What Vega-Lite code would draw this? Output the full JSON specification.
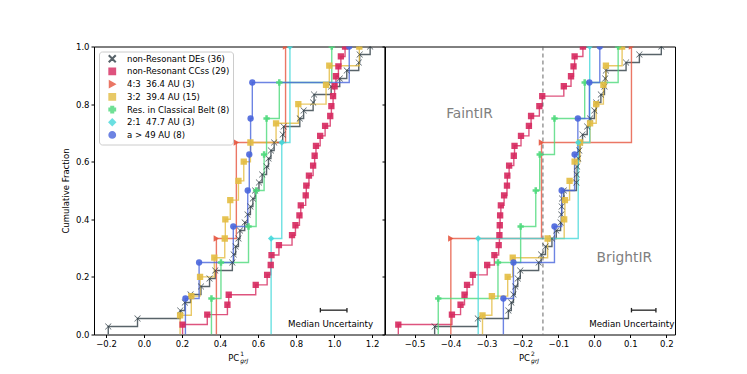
{
"$schema":"https://vega.github.io/schema/vega-lite/v6.json",
"background":"white",
"padding":{"left":60,"top":41.5,"right":5,"bottom":5},
"bounds":"flush",
"spacing":0,
"config":{"font":"DejaVu Sans","view":{"stroke":"black","strokeWidth":1},"axis":{"labelFont":"DejaVu Sans","titleFont":"DejaVu Sans","labelColor":"black","tickColor":"black","titleColor":"black","grid":false,"domain":false,"tickSize":3,"labelFontSize":8.5,"labelPadding":2,"labelFlush":false},"text":{"font":"DejaVu Sans"},"legend":{"rowPadding":-0.3,"symbolSize":40,"labelFontSize":8.5}},
"resolve":{"scale":{"x":"independent","color":"shared","shape":"shared"},"legend":{"color":"independent","shape":"independent"}},
"datasets":{
"L":[
{"s":"DE","x":-0.188,"f":0},{"s":"DE","x":-0.188,"f":0.0278},{"s":"DE","x":-0.034,"f":0.0556},{"s":"DE","x":0.191,"f":0.0833},{"s":"DE","x":0.215,"f":0.1111},{"s":"DE","x":0.245,"f":0.1389},{"s":"DE","x":0.30,"f":0.1667},{"s":"DE","x":0.345,"f":0.1944},{"s":"DE","x":0.375,"f":0.2222},{"s":"DE","x":0.465,"f":0.25},{"s":"DE","x":0.472,"f":0.2778},{"s":"DE","x":0.482,"f":0.3056},{"s":"DE","x":0.497,"f":0.3333},{"s":"DE","x":0.505,"f":0.3611},{"s":"DE","x":0.53,"f":0.3889},{"s":"DE","x":0.545,"f":0.4167},{"s":"DE","x":0.56,"f":0.4444},{"s":"DE","x":0.573,"f":0.4722},{"s":"DE","x":0.585,"f":0.5},{"s":"DE","x":0.605,"f":0.5278},{"s":"DE","x":0.622,"f":0.5556},{"s":"DE","x":0.645,"f":0.5833},{"s":"DE","x":0.655,"f":0.6111},{"s":"DE","x":0.668,"f":0.6389},{"s":"DE","x":0.685,"f":0.6667},{"s":"DE","x":0.73,"f":0.6944},{"s":"DE","x":0.735,"f":0.7222},{"s":"DE","x":0.82,"f":0.75},{"s":"DE","x":0.84,"f":0.7778},{"s":"DE","x":0.89,"f":0.8056},{"s":"DE","x":0.895,"f":0.8333},{"s":"DE","x":0.985,"f":0.8611},{"s":"DE","x":1.03,"f":0.8889},{"s":"DE","x":1.067,"f":0.9167},{"s":"DE","x":1.13,"f":0.9444},{"s":"DE","x":1.135,"f":0.9722},{"s":"DE","x":1.19,"f":1},
{"s":"CC","x":0.203,"f":0},{"s":"CC","x":0.203,"f":0.0345},{"s":"CC","x":0.333,"f":0.069},{"s":"CC","x":0.439,"f":0.1034},{"s":"CC","x":0.446,"f":0.1379},{"s":"CC","x":0.588,"f":0.1724},{"s":"CC","x":0.648,"f":0.2069},{"s":"CC","x":0.667,"f":0.2414},{"s":"CC","x":0.671,"f":0.2759},{"s":"CC","x":0.71,"f":0.3103},{"s":"CC","x":0.779,"f":0.3448},{"s":"CC","x":0.797,"f":0.3793},{"s":"CC","x":0.818,"f":0.4138},{"s":"CC","x":0.825,"f":0.4483},{"s":"CC","x":0.851,"f":0.4828},{"s":"CC","x":0.854,"f":0.5172},{"s":"CC","x":0.868,"f":0.5517},{"s":"CC","x":0.89,"f":0.5862},{"s":"CC","x":0.898,"f":0.6207},{"s":"CC","x":0.905,"f":0.6552},{"s":"CC","x":0.927,"f":0.6897},{"s":"CC","x":0.953,"f":0.7241},{"s":"CC","x":0.98,"f":0.7586},{"s":"CC","x":0.986,"f":0.7931},{"s":"CC","x":0.995,"f":0.8276},{"s":"CC","x":1.003,"f":0.8621},{"s":"CC","x":1.01,"f":0.8966},{"s":"CC","x":1.023,"f":0.931},{"s":"CC","x":1.036,"f":0.9655},{"s":"CC","x":1.058,"f":1},
{"s":"43","x":0.381,"f":0},{"s":"43","x":0.381,"f":0.3333},{"s":"43","x":0.486,"f":0.6667},{"s":"43","x":0.745,"f":1},
{"s":"32","x":0.19,"f":0},{"s":"32","x":0.19,"f":0.0667},{"s":"32","x":0.249,"f":0.1333},{"s":"32","x":0.295,"f":0.2},{"s":"32","x":0.37,"f":0.2667},{"s":"32","x":0.425,"f":0.3333},{"s":"32","x":0.428,"f":0.4},{"s":"32","x":0.454,"f":0.4667},{"s":"32","x":0.497,"f":0.5333},{"s":"32","x":0.525,"f":0.6},{"s":"32","x":0.56,"f":0.6667},{"s":"32","x":0.695,"f":0.7333},{"s":"32","x":0.812,"f":0.8},{"s":"32","x":0.958,"f":0.8667},{"s":"32","x":0.975,"f":0.9333},{"s":"32","x":1.133,"f":1},
{"s":"RC","x":0.355,"f":0},{"s":"RC","x":0.355,"f":0.125},{"s":"RC","x":0.405,"f":0.25},{"s":"RC","x":0.55,"f":0.375},{"s":"RC","x":0.59,"f":0.5},{"s":"RC","x":0.632,"f":0.625},{"s":"RC","x":0.645,"f":0.75},{"s":"RC","x":0.712,"f":0.875},{"s":"RC","x":0.988,"f":1},
{"s":"21","x":0.669,"f":0},{"s":"21","x":0.669,"f":0.3333},{"s":"21","x":0.725,"f":0.6667},{"s":"21","x":0.768,"f":1},
{"s":"49","x":0.218,"f":0},{"s":"49","x":0.218,"f":0.125},{"s":"49","x":0.29,"f":0.25},{"s":"49","x":0.47,"f":0.375},{"s":"49","x":0.546,"f":0.5},{"s":"49","x":0.554,"f":0.625},{"s":"49","x":0.561,"f":0.75},{"s":"49","x":0.57,"f":0.875},{"s":"49","x":1.08,"f":1}
],
"R":[
{"s":"DE","x":-0.444,"f":0},{"s":"DE","x":-0.444,"f":0.0278},{"s":"DE","x":-0.324,"f":0.0556},{"s":"DE","x":-0.239,"f":0.0833},{"s":"DE","x":-0.231,"f":0.1111},{"s":"DE","x":-0.225,"f":0.1389},{"s":"DE","x":-0.22,"f":0.1667},{"s":"DE","x":-0.213,"f":0.1944},{"s":"DE","x":-0.206,"f":0.2222},{"s":"DE","x":-0.155,"f":0.25},{"s":"DE","x":-0.148,"f":0.2778},{"s":"DE","x":-0.136,"f":0.3056},{"s":"DE","x":-0.118,"f":0.3333},{"s":"DE","x":-0.106,"f":0.3611},{"s":"DE","x":-0.094,"f":0.3889},{"s":"DE","x":-0.092,"f":0.4167},{"s":"DE","x":-0.091,"f":0.4444},{"s":"DE","x":-0.09,"f":0.4722},{"s":"DE","x":-0.085,"f":0.5},{"s":"DE","x":-0.05,"f":0.5278},{"s":"DE","x":-0.049,"f":0.5556},{"s":"DE","x":-0.048,"f":0.5833},{"s":"DE","x":-0.045,"f":0.6111},{"s":"DE","x":-0.042,"f":0.6389},{"s":"DE","x":-0.04,"f":0.6667},{"s":"DE","x":-0.033,"f":0.6944},{"s":"DE","x":-0.02,"f":0.7222},{"s":"DE","x":-0.012,"f":0.75},{"s":"DE","x":0.0,"f":0.7778},{"s":"DE","x":0.005,"f":0.8056},{"s":"DE","x":0.018,"f":0.8333},{"s":"DE","x":0.028,"f":0.8611},{"s":"DE","x":0.03,"f":0.8889},{"s":"DE","x":0.032,"f":0.9167},{"s":"DE","x":0.088,"f":0.9444},{"s":"DE","x":0.125,"f":0.9722},{"s":"DE","x":0.186,"f":1},
{"s":"CC","x":-0.545,"f":0},{"s":"CC","x":-0.545,"f":0.0345},{"s":"CC","x":-0.396,"f":0.069},{"s":"CC","x":-0.372,"f":0.1034},{"s":"CC","x":-0.361,"f":0.1379},{"s":"CC","x":-0.354,"f":0.1724},{"s":"CC","x":-0.338,"f":0.2069},{"s":"CC","x":-0.298,"f":0.2414},{"s":"CC","x":-0.278,"f":0.2759},{"s":"CC","x":-0.266,"f":0.3103},{"s":"CC","x":-0.264,"f":0.3448},{"s":"CC","x":-0.263,"f":0.3793},{"s":"CC","x":-0.262,"f":0.4138},{"s":"CC","x":-0.26,"f":0.4483},{"s":"CC","x":-0.251,"f":0.4828},{"s":"CC","x":-0.243,"f":0.5172},{"s":"CC","x":-0.242,"f":0.5517},{"s":"CC","x":-0.237,"f":0.5862},{"s":"CC","x":-0.224,"f":0.6207},{"s":"CC","x":-0.222,"f":0.6552},{"s":"CC","x":-0.204,"f":0.6897},{"s":"CC","x":-0.182,"f":0.7241},{"s":"CC","x":-0.176,"f":0.7586},{"s":"CC","x":-0.153,"f":0.7931},{"s":"CC","x":-0.145,"f":0.8276},{"s":"CC","x":-0.085,"f":0.8621},{"s":"CC","x":-0.065,"f":0.8966},{"s":"CC","x":-0.058,"f":0.931},{"s":"CC","x":-0.055,"f":0.9655},{"s":"CC","x":-0.032,"f":1},
{"s":"43","x":-0.399,"f":0},{"s":"43","x":-0.399,"f":0.3333},{"s":"43","x":-0.147,"f":0.6667},{"s":"43","x":0.103,"f":1},
{"s":"32","x":-0.311,"f":0},{"s":"32","x":-0.311,"f":0.0667},{"s":"32","x":-0.285,"f":0.1333},{"s":"32","x":-0.241,"f":0.2},{"s":"32","x":-0.227,"f":0.2667},{"s":"32","x":-0.13,"f":0.3333},{"s":"32","x":-0.084,"f":0.4},{"s":"32","x":-0.082,"f":0.4667},{"s":"32","x":-0.069,"f":0.5333},{"s":"32","x":-0.055,"f":0.6},{"s":"32","x":-0.04,"f":0.6667},{"s":"32","x":-0.012,"f":0.7333},{"s":"32","x":0.005,"f":0.8},{"s":"32","x":0.025,"f":0.8667},{"s":"32","x":0.032,"f":0.9333},{"s":"32","x":0.077,"f":1},
{"s":"RC","x":-0.434,"f":0},{"s":"RC","x":-0.434,"f":0.125},{"s":"RC","x":-0.268,"f":0.25},{"s":"RC","x":-0.205,"f":0.375},{"s":"RC","x":-0.163,"f":0.5},{"s":"RC","x":-0.152,"f":0.625},{"s":"RC","x":-0.111,"f":0.75},{"s":"RC","x":-0.027,"f":0.875},{"s":"RC","x":0.066,"f":1},
{"s":"21","x":-0.323,"f":0},{"s":"21","x":-0.323,"f":0.3333},{"s":"21","x":-0.045,"f":0.6667},{"s":"21","x":-0.013,"f":1},
{"s":"49","x":-0.253,"f":0},{"s":"49","x":-0.253,"f":0.125},{"s":"49","x":-0.225,"f":0.25},{"s":"49","x":-0.111,"f":0.375},{"s":"49","x":-0.091,"f":0.5},{"s":"49","x":-0.055,"f":0.625},{"s":"49","x":-0.046,"f":0.75},{"s":"49","x":-0.014,"f":0.875},{"s":"49","x":0.015,"f":1}
]
},
"hconcat":[
{
"width":290.4,"height":288,
"layer":[
{"data":{"name":"L"},"mark":{"type":"line","interpolate":"step-after","strokeWidth":1.4,"opacity":0.8,"clip":true},
"encoding":{
"x":{"field":"x","type":"quantitative","scale":{"domain":[-0.263,1.265],"nice":false,"zero":false},"axis":{"values":[-0.2,0,0.2,0.4,0.6,0.8,1.0,1.2],"format":".1f","title":null}},
"y":{"field":"f","type":"quantitative","scale":{"domain":[0,1],"nice":false,"zero":false},"axis":{"values":[0,0.2,0.4,0.6,0.8,1.0],"format":".1f","title":"Cumulative Fraction","titleFontSize":8.5,"titleFontWeight":"normal","titlePadding":5}},
"color":{"field":"s","type":"nominal","scale":{"domain":["DE","CC","43","32","RC","21","49"],"range":["#2e3c44","#d6285e","#e6553f","#e3bc41","#4cd97b","#46d8da","#4965dc"]},"legend":{"title":null,"orient":"top-left","offset":4.5,"padding":3,"fillColor":"white","strokeColor":"#cccccc","cornerRadius":3,"labelFontSize":8.5,"labelColor":"black","rowPadding":-0.3,"symbolSize":40,"symbolOffset":6,"labelOffset":10.5,"labelExpr":"datum.label=='DE'?'non-Resonant DEs (36)':datum.label=='CC'?'non-Resonant CCss (29)':datum.label=='43'?'4:3 \u00a036.4 AU (3)':datum.label=='32'?'3:2 \u00a039.4 AU (15)':datum.label=='RC'?'Res. in Classical Belt (8)':datum.label=='21'?'2:1 \u00a047.7 AU (3)':'a > 49 AU (8)'"}},
"order":{"field":"f","type":"quantitative"}}},
{"data":{"name":"L"},"transform":[{"filter":"datum.f > 0"}],"mark":{"type":"point","filled":true,"size":40,"opacity":0.9,"clip":true},
"encoding":{
"x":{"field":"x","type":"quantitative"},
"y":{"field":"f","type":"quantitative"},
"color":{"field":"s","type":"nominal","legend":{"title":null,"orient":"top-left","offset":4.5,"padding":3,"fillColor":"white","strokeColor":"#cccccc","cornerRadius":3,"labelFontSize":8.5,"labelColor":"black","rowPadding":-0.3,"symbolSize":40,"symbolOffset":6,"labelOffset":10.5,"labelExpr":"datum.label=='DE'?'non-Resonant DEs (36)':datum.label=='CC'?'non-Resonant CCss (29)':datum.label=='43'?'4:3 \u00a036.4 AU (3)':datum.label=='32'?'3:2 \u00a039.4 AU (15)':datum.label=='RC'?'Res. in Classical Belt (8)':datum.label=='21'?'2:1 \u00a047.7 AU (3)':'a > 49 AU (8)'"}},
"shape":{"field":"s","type":"nominal","scale":{"domain":["DE","CC","43","32","RC","21","49"],"range":["M-1,-0.88L-0.88,-1L0,-0.12L0.88,-1L1,-0.88L0.12,0L1,0.88L0.88,1L0,0.12L-0.88,1L-1,0.88L-0.12,0Z","square","triangle-right","square","M-0.4,-1L0.4,-1L0.4,-0.4L1,-0.4L1,0.4L0.4,0.4L0.4,1L-0.4,1L-0.4,0.4L-1,0.4L-1,-0.4L-0.4,-0.4Z","diamond","circle"]},"legend":{"title":null,"orient":"top-left","offset":4.5,"padding":3,"fillColor":"white","strokeColor":"#cccccc","cornerRadius":3,"labelFontSize":8.5,"labelColor":"black","rowPadding":-0.3,"symbolSize":40,"symbolOffset":6,"labelOffset":10.5,"labelExpr":"datum.label=='DE'?'non-Resonant DEs (36)':datum.label=='CC'?'non-Resonant CCss (29)':datum.label=='43'?'4:3 \u00a036.4 AU (3)':datum.label=='32'?'3:2 \u00a039.4 AU (15)':datum.label=='RC'?'Res. in Classical Belt (8)':datum.label=='21'?'2:1 \u00a047.7 AU (3)':'a > 49 AU (8)'"}}}},
{"data":{"values":[{"x":0.928,"x2":1.068,"y":0.0845}]},"mark":{"type":"rule","color":"#222","strokeWidth":1.3},"encoding":{"x":{"field":"x","type":"quantitative"},"x2":{"field":"x2"},"y":{"field":"y","type":"quantitative"}}},
{"data":{"values":[{"x":0.928,"y":0.0845},{"x":1.068,"y":0.0845}]},"mark":{"type":"point","shape":"stroke","angle":90,"size":20,"filled":false,"color":"#222","strokeWidth":1.3,"opacity":1},"encoding":{"x":{"field":"x","type":"quantitative"},"y":{"field":"y","type":"quantitative"}}},
{"data":{"values":[{"x":0.982,"y":0.038,"t":"Median Uncertainty"}]},"mark":{"type":"text","fontSize":8.7,"color":"black","align":"center","baseline":"middle"},"encoding":{"x":{"field":"x","type":"quantitative"},"y":{"field":"y","type":"quantitative"},"text":{"field":"t"}}},
{"data":{"values":[{"x":0.501,"y":-0.08,"t":"PC"}]},"mark":{"type":"text","fontSize":8.5,"color":"black","align":"right","baseline":"middle","clip":false},"encoding":{"x":{"field":"x","type":"quantitative"},"y":{"field":"y","type":"quantitative"},"text":{"field":"t"}}},
{"data":{"values":[{"x":0.501,"y":-0.08,"t":"1"}]},"mark":{"type":"text","fontSize":6,"color":"black","align":"left","baseline":"middle","dx":1,"dy":-4},"encoding":{"x":{"field":"x","type":"quantitative"},"y":{"field":"y","type":"quantitative"},"text":{"field":"t"}}},
{"data":{"values":[{"x":0.501,"y":-0.08,"t":"grJ"}]},"mark":{"type":"text","fontSize":6,"fontStyle":"italic","color":"black","align":"left","baseline":"middle","dx":1,"dy":3},"encoding":{"x":{"field":"x","type":"quantitative"},"y":{"field":"y","type":"quantitative"},"text":{"field":"t"}}}
]
},
{
"width":290,"height":288,
"layer":[
{"data":{"name":"R"},"mark":{"type":"line","interpolate":"step-after","strokeWidth":1.4,"opacity":0.8,"clip":true},
"encoding":{
"x":{"field":"x","type":"quantitative","scale":{"domain":[-0.582,0.224],"nice":false,"zero":false},"axis":{"values":[-0.5,-0.4,-0.3,-0.2,-0.1,0,0.1,0.2],"format":".1f","title":null}},
"y":{"field":"f","type":"quantitative","scale":{"domain":[0,1],"nice":false,"zero":false},"axis":{"values":[0,0.2,0.4,0.6,0.8,1.0],"labels":false,"title":null}},
"color":{"field":"s","type":"nominal","legend":null},
"order":{"field":"f","type":"quantitative"}}},
{"data":{"values":[{"x":-0.143}]},"mark":{"type":"rule","color":"#666666","strokeWidth":1,"strokeDash":[4,3]},"encoding":{"x":{"field":"x","type":"quantitative"}}},
{"data":{"name":"R"},"transform":[{"filter":"datum.f > 0"}],"mark":{"type":"point","filled":true,"size":40,"opacity":0.9,"clip":true},
"encoding":{
"x":{"field":"x","type":"quantitative"},
"y":{"field":"f","type":"quantitative"},
"color":{"field":"s","type":"nominal","legend":null},
"shape":{"field":"s","type":"nominal","legend":null}}},
{"data":{"values":[{"x":-0.347,"y":0.767,"t":"FaintIR"},{"x":0.083,"y":0.266,"t":"BrightIR"}]},"mark":{"type":"text","fontSize":13.8,"color":"#808080","align":"center","baseline":"middle"},"encoding":{"x":{"field":"x","type":"quantitative"},"y":{"field":"y","type":"quantitative"},"text":{"field":"t"}}},
{"data":{"values":[{"x":0.103,"x2":0.171,"y":0.0845}]},"mark":{"type":"rule","color":"#222","strokeWidth":1.3},"encoding":{"x":{"field":"x","type":"quantitative"},"x2":{"field":"x2"},"y":{"field":"y","type":"quantitative"}}},
{"data":{"values":[{"x":0.103,"y":0.0845},{"x":0.171,"y":0.0845}]},"mark":{"type":"point","shape":"stroke","angle":90,"size":20,"filled":false,"color":"#222","strokeWidth":1.3,"opacity":1},"encoding":{"x":{"field":"x","type":"quantitative"},"y":{"field":"y","type":"quantitative"}}},
{"data":{"values":[{"x":0.104,"y":0.038,"t":"Median Uncertainty"}]},"mark":{"type":"text","fontSize":8.7,"color":"black","align":"center","baseline":"middle"},"encoding":{"x":{"field":"x","type":"quantitative"},"y":{"field":"y","type":"quantitative"},"text":{"field":"t"}}},
{"data":{"values":[{"x":-0.179,"y":-0.08,"t":"PC"}]},"mark":{"type":"text","fontSize":8.5,"color":"black","align":"right","baseline":"middle"},"encoding":{"x":{"field":"x","type":"quantitative"},"y":{"field":"y","type":"quantitative"},"text":{"field":"t"}}},
{"data":{"values":[{"x":-0.179,"y":-0.08,"t":"2"}]},"mark":{"type":"text","fontSize":6,"color":"black","align":"left","baseline":"middle","dx":1,"dy":-4},"encoding":{"x":{"field":"x","type":"quantitative"},"y":{"field":"y","type":"quantitative"},"text":{"field":"t"}}},
{"data":{"values":[{"x":-0.179,"y":-0.08,"t":"grJ"}]},"mark":{"type":"text","fontSize":6,"fontStyle":"italic","color":"black","align":"left","baseline":"middle","dx":1,"dy":3},"encoding":{"x":{"field":"x","type":"quantitative"},"y":{"field":"y","type":"quantitative"},"text":{"field":"t"}}}
]
}
]
}
